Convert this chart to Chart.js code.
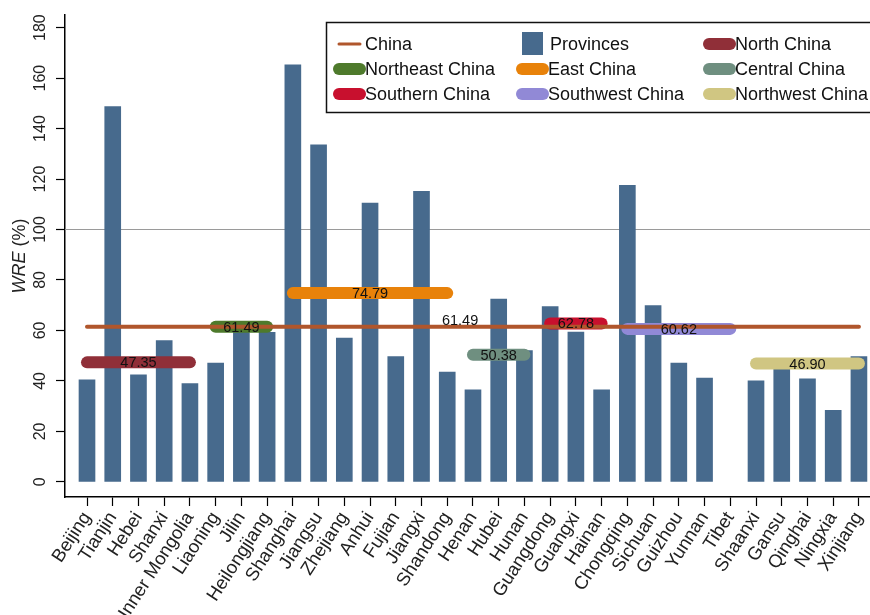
<!DOCTYPE html>
<html>
<head>
<meta charset="utf-8">
<script src="https://cdn.jsdelivr.net/npm/chart.js@4.4.1/dist/chart.umd.min.js"></script>
<style>
  html, body { margin: 0; padding: 0; background: #fff; }
  #wrap { width: 870px; height: 615px; }
</style>
</head>
<body>
<div id="wrap"><canvas id="wreChart" width="870" height="615"></canvas></div>
<script>
// x categories (provinces, grouped by region)
const provinces = ['Beijing', 'Tianjin', 'Hebei', 'Shanxi', 'Inner Mongolia', 'Liaoning', 'Jilin',
  'Heilongjiang', 'Shanghai', 'Jiangsu', 'Zhejiang', 'Anhui', 'Fujian', 'Jiangxi', 'Shandong',
  'Henan', 'Hubei', 'Hunan', 'Guangdong', 'Guangxi', 'Hainan', 'Chongqing', 'Sichuan', 'Guizhou',
  'Yunnan', 'Tibet', 'Shaanxi', 'Gansu', 'Qinghai', 'Ningxia', 'Xinjiang'];

// WRE (%) per province (Tibet has no bar)
const provinceWre = [40.4, 148.7, 42.4, 56.0, 38.9, 47.1, 60.5, 59.3, 165.3, 133.6, 57.0,
  110.5, 49.6, 115.1, 43.5, 36.5, 72.4, 52.0, 69.5, 59.4, 36.5, 117.5, 69.9, 47.1, 41.1, null,
  40.0, 45.0, 40.8, 28.3, 49.6];

const chinaWre = 61.49;
const referenceLine = 100;
const yTickValues = [0, 20, 40, 60, 80, 100, 120, 140, 160, 180];

// regional averages and the provinces they span (first/last index)
const regionNames = ['North China', 'Northeast China', 'East China', 'Central China',
  'Southern China', 'Southwest China', 'Northwest China'];
const regionWre = [47.35, 61.49, 74.79, 50.38, 62.78, 60.62, 46.90];
const regionFirst = [0, 5, 8, 15, 18, 21, 26];
const regionLast = [4, 7, 14, 17, 20, 25, 30];
const regionColors = ['#902f38', '#4e7a2c', '#e8820a', '#6f8f80', '#c8102e', '#9189d6', '#d0c682'];

const FONT = '"Liberation Sans", Arial, sans-serif';
const barColor = '#476a8d';
const chinaColor = '#b0562c';

const datasets = [];
datasets.push({
  type: 'line',
  label: 'China',
  data: [{ x: 0, y: chinaWre }, { x: provinces.length - 1, y: chinaWre }],
  borderColor: chinaColor,
  borderWidth: 4,
  borderCapStyle: 'round',
  pointRadius: 0,
  order: 0
});
datasets.push({
  type: 'bar',
  label: 'Provinces',
  data: provinces.map((p, i) => ({ x: i, y: provinceWre[i] })),
  backgroundColor: barColor,
  barThickness: 16,
  order: 5
});
regionNames.forEach((name, r) => {
  datasets.push({
    type: 'line',
    label: name,
    data: [{ x: regionFirst[r], y: regionWre[r] }, { x: regionLast[r], y: regionWre[r] }],
    borderColor: regionColors[r],
    borderWidth: 12,
    borderCapStyle: 'round',
    pointRadius: 0,
    order: 1
  });
});

// grey reference line at 100, under the bars
const refLinePlugin = {
  id: 'refLine',
  beforeDatasetsDraw(chart) {
    const { ctx, chartArea, scales } = chart;
    const y = scales.y.getPixelForValue(referenceLine);
    ctx.save();
    ctx.strokeStyle = '#9a9a9a';
    ctx.lineWidth = 1.2;
    ctx.beginPath();
    ctx.moveTo(chartArea.left, y);
    ctx.lineTo(chartArea.right, y);
    ctx.stroke();
    ctx.restore();
  }
};

// value labels on the region pills and above the China line
const valueLabels = {
  id: 'valueLabels',
  afterDatasetsDraw(chart) {
    const { ctx, scales } = chart;
    ctx.save();
    ctx.font = '14.5px ' + FONT;
    ctx.fillStyle = '#111';
    ctx.textAlign = 'center';
    ctx.textBaseline = 'middle';
    regionNames.forEach((name, r) => {
      const x = scales.x.getPixelForValue((regionFirst[r] + regionLast[r]) / 2);
      ctx.fillText(regionWre[r].toFixed(2), x, scales.y.getPixelForValue(regionWre[r]) + 1);
    });
    ctx.textBaseline = 'bottom';
    const cx = scales.x.getPixelForValue((provinces.length - 1) / 2 - 0.5);
    ctx.fillText(chinaWre.toFixed(2), cx, scales.y.getPixelForValue(chinaWre) + 2);
    ctx.restore();
  }
};

// y title with italic WRE
const yTitle = {
  id: 'yTitle',
  afterDraw(chart) {
    const { ctx, chartArea } = chart;
    const a = 'WRE', b = ' (%)';
    ctx.save();
    ctx.translate(20, (chartArea.top + chartArea.bottom) / 2);
    ctx.rotate(-Math.PI / 2);
    ctx.fillStyle = '#222';
    ctx.textBaseline = 'middle';
    ctx.font = 'italic 18px ' + FONT;
    const wa = ctx.measureText(a).width;
    ctx.font = '18px ' + FONT;
    const wb = ctx.measureText(b).width;
    const start = -(wa + wb) / 2;
    ctx.textAlign = 'left';
    ctx.font = 'italic 18px ' + FONT;
    ctx.fillText(a, start, 0);
    ctx.font = '18px ' + FONT;
    ctx.fillText(b, start + wa, 0);
    ctx.restore();
  }
};

// boxed three-column legend in the top right corner
const legendOrder = ['China', 'Provinces', 'North China', 'Northeast China', 'East China',
  'Central China', 'Southern China', 'Southwest China', 'Northwest China'];
const boxLegend = {
  id: 'boxLegend',
  afterDraw(chart) {
    const { ctx } = chart;
    const colX = [334, 517, 704];
    const rowY = [44, 69, 94];
    ctx.save();
    ctx.fillStyle = '#fff';
    ctx.fillRect(326, 22, 560, 91);
    ctx.strokeStyle = '#111';
    ctx.lineWidth = 1.5;
    ctx.strokeRect(326.5, 22.5, 560, 90);
    legendOrder.forEach((label, k) => {
      const ds = chart.data.datasets.find(d => d.label === label);
      const x = colX[k % 3], y = rowY[Math.floor(k / 3)];
      let textX = x + 31;
      if (ds.type === 'bar') {
        ctx.fillStyle = ds.backgroundColor;
        ctx.fillRect(x + 5, y - 12, 21, 23);
        textX = x + 33;
      } else {
        ctx.strokeStyle = ds.borderColor;
        ctx.lineCap = 'round';
        ctx.lineWidth = ds.borderWidth > 6 ? 12 : 3;
        ctx.beginPath();
        ctx.moveTo(x + 5, y);
        ctx.lineTo(x + 26, y);
        ctx.stroke();
      }
      ctx.fillStyle = '#111';
      ctx.font = '18px ' + FONT;
      ctx.textAlign = 'left';
      ctx.textBaseline = 'middle';
      ctx.fillText(label, textX, y + 1);
    });
    ctx.restore();
  }
};

new Chart(document.getElementById('wreChart'), {
  type: 'bar',
  data: { datasets: datasets },
  plugins: [refLinePlugin, valueLabels, yTitle, boxLegend],
  options: {
    responsive: false,
    animation: false,
    devicePixelRatio: 1,
    layout: { padding: { top: 15, right: 0, left: 0, bottom: 0 } },
    plugins: { legend: { display: false }, tooltip: { enabled: false } },
    scales: {
      x: {
        type: 'linear',
        offset: false,
        min: -0.855,
        max: 30.43,
        afterBuildTicks: s => { s.ticks = provinces.map((p, i) => ({ value: i })); },
        afterFit: s => { s.height = 118; s.paddingLeft = 0; s.paddingRight = 0; },
        border: { display: true, color: '#000', width: 1.5 },
        grid: { display: true, offset: false, drawOnChartArea: false, drawTicks: true, tickLength: 9, tickColor: '#000', tickWidth: 1.2 },
        ticks: {
          autoSkip: false,
          minRotation: 57,
          maxRotation: 57,
          padding: 2,
          color: '#222',
          font: { size: 18.5, family: FONT },
          callback: v => provinces[v]
        }
      },
      y: {
        type: 'linear',
        min: -6,
        max: 185,
        afterBuildTicks: s => { s.ticks = yTickValues.map(v => ({ value: v })); },
        afterFit: s => { s.width = 65; },
        border: { display: true, color: '#000', width: 1.5 },
        grid: { display: true, drawOnChartArea: false, drawTicks: true, tickLength: 9, tickColor: '#000', tickWidth: 1.2 },
        ticks: {
          autoSkip: false,
          minRotation: 90,
          maxRotation: 90,
          crossAlign: 'center',
          padding: 2,
          color: '#222',
          font: { size: 16, family: FONT }
        }
      }
    }
  }
});
</script>
</body>
</html>
